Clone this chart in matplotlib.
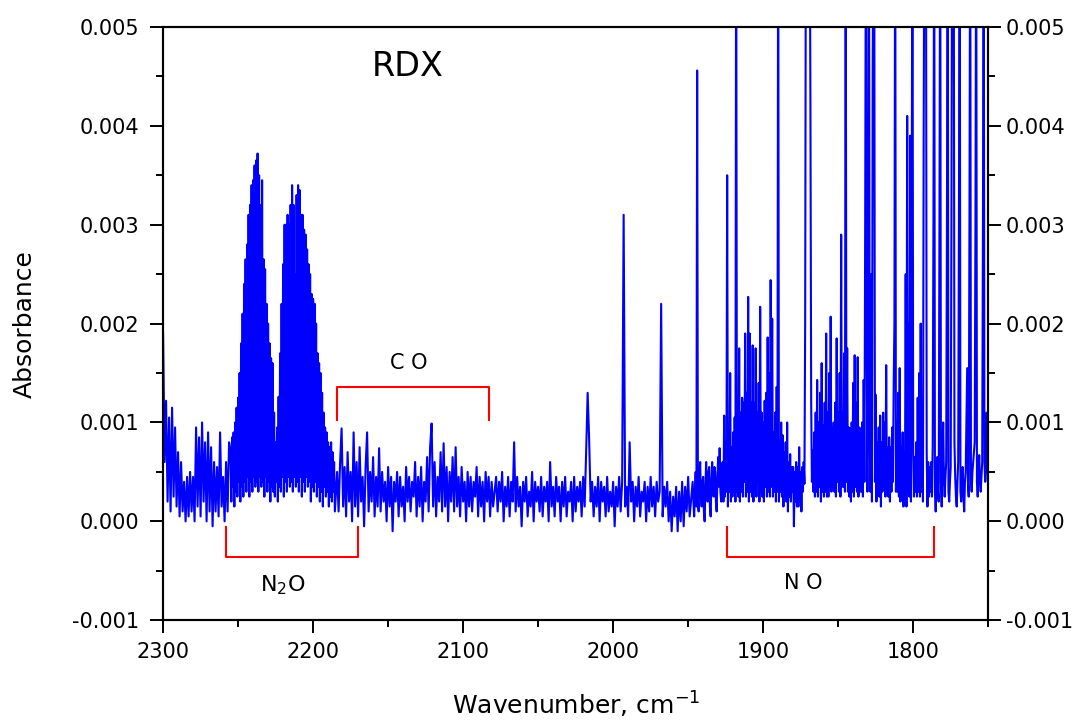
import numpy as np
import matplotlib
matplotlib.use("Agg")
import matplotlib.pyplot as plt
from matplotlib.ticker import MultipleLocator, FormatStrFormatter

# absorbance in units of 1e-5
# each block: first wavenumber, spacing in cm-1, values running downwards
start_a, step_a = 2300, 1.0
abs_a = [190, 60, 122, 20, 105, 10, 115, 25, 95, 15, 70, 5, 60, 10, 40, 0, 45, 5, 50, 10,
         45, 0, 95, 15, 85, 5, 100, 20, 80, 0, 90, 10, 75, -5, 60, 10, 55, 5, 90, 15,
         45, 0, 60, 10, 80]

# N2O band, finer spacing
start_n2o, step_n2o = 2255, 0.5
abs_n2o = [70, 20, 85, 35, 90, 15, 100, 30, 115, 25, 125, 40, 150, 20, 180, 35, 210, 25, 240, 40,
           265, 30, 280, 45, 310, 25, 320, 40, 340, 30, 345, 45, 360, 35, 365, 40, 372, 30, 350, 45,
           320, 35, 345, 40, 265, 25, 255, 45, 220, 30, 200, 40, 180, 20, 165, 35, 160, 30, 110, 25,
           80, 40, 95, 20, 126, 35, 170, 30, 220, 45, 260, 25, 300, 40, 300, 30, 310, 45, 300, 35,
           320, 40, 340, 30, 320, 45, 250, 35, 330, 40, 340, 30, 335, 45, 310, 25, 310, 40, 295, 30,
           290, 45, 275, 35, 260, 40, 250, 20, 230, 35, 225, 30, 220, 40, 200, 25, 170, 35, 160, 20,
           150, 30, 130, 15, 110, 35, 95, 25, 90, 30, 80, 15, 75, 25, 80, 20, 70, 30, 60, 10]

start_co, step_co = 2184, 1.0
abs_co = [50, 10, 60, 94, 15, 55, 5, 70, 20, 50, 0, 90, 15, 60, 5, 75, 20, 45, -5, 55,
          90, 10, 50, 20, 65, 5, 45, 15, 74, 10, 50, 20, 40, 0, 55, 15, 45, -10, 40, 20,
          50, 5, 45, 15, 35, 0, 55, 20, 45, 10, 40, 25, 60, 5, 45, 15, 55, 0, 40, 20,
          65, 10, 75, 99, 15, 60, 5, 45, 20, 70, 10, 79, 15, 55, 0, 50, 20, 65, 10, 75,
          15, 45, 5, 55, 20, 40, 0, 50, 15, 45, 10, 40, 25, 55, 5, 45, 15, 40, 0, 50,
          20, 45, 5, 40, 15]

start_mid, step_mid = 2078, 1.0
abs_mid = [45, 10, 40, 20, 50, 0, 35, 15, 45, 5, 40, 20, 80, 10, 45, 15, 35, -5, 40, 20,
           45, 5, 30, 15, 50, 0, 40, 20, 35, 10, 45, 5, 35, 20, 40, 0, 60, 15, 35, 5,
           45, 20, 35, 0, 40, 15, 45, 5, 30, 20, 40, 0, 45, 10, 35, 20, 40, 5, 45, 15,
           70, 130, 83, 20, 40, 5, 35, 15, 45, 0, 40, 20, 35, 5, 45, 10, 30, 15, 40, -5,
           35, 15, 45, 10, 40, 310, 15, 35, 5, 80, 20, 40, 0, 35, 15, 45, 5, 30, 20, 40,
           0, 35, 10, 45, 15, 35, 5, 40, 20, 30, 220, 5, 35, 15, 40, 0, 30, -10, 25, 5,
           35, -10, 30, 0, 40, -5, 35, 10, 45, 5]

# NO band, finer spacing (lines above 500 run off the top of the plot)
start_no, step_no = 1947, 0.5
abs_no = [40, 20, 5, 30, 50, 15, 456, 20, 10, 45, 60, 25, 15, 40, 45, 10, 0, 35, 60, 25,
          20, 50, 55, 15, 5, 40, 60, 30, 25, 55, 50, 20, 10, 45, 65, 35, 74, 30, 20, 55,
          60, 20, 107, 25, 80, 30, 350, 15, 70, 30, 150, 20, 75, 25, 90, 30, 105, 20, 650, 30,
          100, 25, 175, 20, 110, 30, 125, 25, 120, 40, 190, 25, 130, 30, 227, 20, 190, 30, 120, 25,
          178, 20, 120, 30, 175, 25, 110, 40, 140, 20, 217, 30, 110, 25, 100, 20, 122, 35, 130, 25,
          186, 30, 150, 25, 244, 35, 205, 25, 90, 30, 110, 20, 136, 30, 650, 20, 75, 30, 100, 25,
          87, 15, 70, 25, 80, 20, 100, 10, 60, 25, 68, 20, 55, 30, 55, -5, 50, 20, 60, 15,
          55, 15, 75, 20, 50, 10, 55, 30, 60, 38, 200, 650, 650, 700, 650, 650, 650, 420, 120, 40,
          72, 30, 90, 25, 110, 30, 143, 25, 100, 35, 130, 20, 160, 30, 97, 25, 120, 30, 190, 25,
          110, 25, 150, 35, 207, 30, 95, 35, 100, 30, 120, 25, 185, 40, 110, 30, 150, 25, 290, 35,
          110, 35, 170, 30, 650, 40, 175, 30, 95, 25, 94, 20, 100, 30, 140, 25, 168, 35, 120, 30,
          166, 25, 95, 30, 94, 30, 100, 25, 143, 40, 300, 650, 200, 30, 300, 650, 90, 30, 250, 20,
          460, 600, 650, 40, 128, 20, 80, 30, 95, 25, 107, 15, 80, 30, 110, 35, 100, 25, 158, 30,
          75, 25, 85, 20, 75, 30, 95, 40, 138, 200, 650, 30, 100, 30, 130, 25, 155, 20, 75, 30,
          90, 15, 70, 25, 250, 15, 410, 30, 200, 25, 390, 20, 300, 650, 70, 25, 65, 30, 80, 25,
          125, 30, 150, 25, 200, 30, 110, 20, 400, 650, 650, 650, 70, 15, 60, 25, 55, 30, 60, 25,
          75, 300, 650, 30, 10, 40, 65, 30, 20, 300, 650, 40, 15, 70, 100, 40, 25, 45, 60, 300,
          650, 30, 20, 40, 55, 300, 650, 650, 650, 80, 45, 25, 15, 40, 60, 300, 650, 30, 20, 45,
          55, 25, 10, 40, 50, 100, 155, 40, 25, 300, 650, 40, 30, 50, 60, 70, 80, 300, 650, 40,
          25, 50, 67, 40, 30, 45, 60, 300, 650, 60, 40, 80, 110, 50, 35, 45, 60, 40, 30, 35,
          45]

blocks = [(start_a, step_a, abs_a), (start_n2o, step_n2o, abs_n2o),
          (start_co, step_co, abs_co), (start_mid, step_mid, abs_mid),
          (start_no, step_no, abs_no)]

wn = np.concatenate([s - d * np.arange(len(v)) for s, d, v in blocks])
ab = np.concatenate([np.array(v) * 1e-5 for s, d, v in blocks])

plt.rcParams['font.family'] = ['DejaVu Sans']

fig = plt.figure(figsize=(10.8, 7.28), dpi=100)
ax = fig.add_axes([0.151, 0.148, 0.764, 0.815])

ax.plot(wn, ab, color='#0000FF', lw=1.5)

ax.set_xlim(2300, 1750)
ax.set_ylim(-0.001, 0.005)

ax.xaxis.set_major_locator(MultipleLocator(100))
ax.xaxis.set_minor_locator(MultipleLocator(50))
ax.yaxis.set_major_locator(MultipleLocator(0.001))
ax.yaxis.set_minor_locator(MultipleLocator(0.0005))
ax.yaxis.set_major_formatter(FormatStrFormatter('%.3f'))

ax.tick_params(which='both', direction='out', top=False, right=False,
               width=1.4, labelsize=15, colors='black')
ax.tick_params(which='major', length=9.5)
ax.tick_params(which='minor', length=5)
ax.tick_params(axis='x', pad=6)
ax.tick_params(axis='y', pad=8)
for sp in ax.spines.values():
    sp.set_linewidth(1.5)

# right hand axis carries the same scale
ax2 = ax.twinx()
ax2.set_ylim(ax.get_ylim())
ax2.yaxis.set_major_locator(MultipleLocator(0.001))
ax2.yaxis.set_minor_locator(MultipleLocator(0.0005))
ax2.yaxis.set_major_formatter(FormatStrFormatter('%.3f'))
ax2.tick_params(which='both', direction='out', width=1.4, labelsize=15, pad=3)
ax2.tick_params(which='major', length=9.5)
ax2.tick_params(which='minor', length=5)
for sp in ax2.spines.values():
    sp.set_linewidth(1.5)

ax.set_xlabel('Wavenumber, cm$^{\\mathregular{-1}}$', fontsize=18, labelpad=20)
ax.set_ylabel('Absorbance', fontsize=18)
ax.yaxis.set_label_coords(-0.153, 0.5)

red = '#FF0000'
# N2O bracket
ax.plot([2258, 2258, 2170, 2170], [-0.00006, -0.00036, -0.00036, -0.00006], color=red, lw=1.5)
ax.text(2220, -0.00065, 'N$_\\mathregular{2}$O', fontsize=16, ha='center', va='center')
# CO bracket
ax.plot([2184, 2184, 2083, 2083], [0.00103, 0.00136, 0.00136, 0.00103], color=red, lw=1.5)
ax.text(2136, 0.00160, 'C O', fontsize=15, ha='center', va='center')
# NO bracket
ax.plot([1924, 1924, 1786, 1786], [-0.00006, -0.00036, -0.00036, -0.00006], color=red, lw=1.5)
ax.text(1873, -0.00062, 'N O', fontsize=15, ha='center', va='center')

ax.text(2137, 0.00460, 'RDX', fontsize=24, ha='center', va='center')

fig.savefig('out.png', dpi=100)
